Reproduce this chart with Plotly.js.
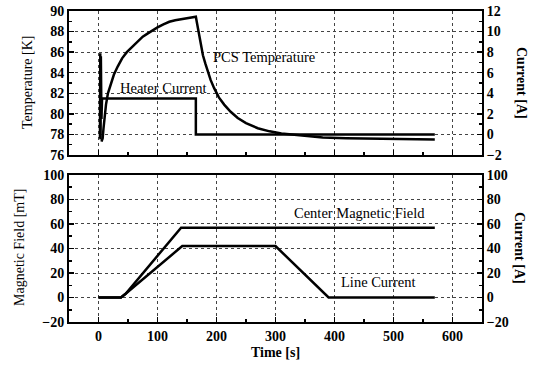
<!DOCTYPE html>
<html>
<head>
<meta charset="utf-8">
<script src="https://cdn.plot.ly/plotly-3.0.1.min.js"></script>
<style>html,body{margin:0;padding:0;background:#fff;}#chart{width:539px;height:365px;}</style>
</head>
<body>
<div id="chart"></div>
<script>
// Top panel: PCS temperature [K] (left axis) and heater current [A] (right axis)
const pcsTime = [5, 7, 8.5, 10, 12.7, 16, 21, 26, 32.5, 40, 48, 55, 65, 75, 83, 92, 100, 110, 120, 130, 140, 150, 158, 165,
  167, 169, 171, 174, 177, 181, 185, 190, 196, 204, 213, 224, 236, 250, 270, 290, 310, 340, 380, 420, 470, 520, 570];
const pcsTemp = [77.3, 77.6, 78.6, 79.5, 80.9, 82.0, 83.0, 83.8, 84.6, 85.4, 86.0, 86.4, 87.0, 87.5, 87.8, 88.15, 88.4, 88.7, 88.95, 89.1, 89.2, 89.3, 89.38, 89.45,
  88.8, 88.1, 87.4, 86.5, 85.7, 84.9, 84.1, 83.3, 82.5, 81.6, 80.9, 80.2, 79.6, 79.1, 78.6, 78.3, 78.1, 77.9, 77.7, 77.62, 77.57, 77.53, 77.5];
const heaterTime = [2.5, 3, 3.5, 4, 5, 6, 165, 165, 570];
const heaterCurrent = [-0.4, 7.9, -0.5, 7.6, 1.5, 3.5, 3.5, 0, 0];

// Bottom panel: center magnetic field [mT] (left axis) and line current [A] (right axis)
const fieldTime = [0, 38, 46, 140, 570];
const fieldValue = [0, 0, 3, 57, 57];
const lineTime = [0, 38, 46, 142, 300, 390, 570];
const lineCurrent = [0, 0, 3, 42, 42, 0, 0];

const topLeftTicks = [76, 78, 80, 82, 84, 86, 88, 90];
const topRightTicks = [-2, 0, 2, 4, 6, 8, 10, 12];
const bottomTicks = [-20, 0, 20, 40, 60, 80, 100];
const timeTicks = [0, 100, 200, 300, 400, 500, 600];

const F = "Liberation Serif, Times New Roman, serif";
const tickFont = {family: F, size: 14, color: "#000", weight: "bold"};
const lineStyle = {color: "#000", width: 2.5};
const noteFont = {family: F, size: 14.5, color: "#000"};

const traces = [
  {x: pcsTime, y: pcsTemp, xaxis: "x", yaxis: "y", mode: "lines", line: lineStyle, name: "PCS Temperature"},
  {x: heaterTime, y: heaterCurrent, xaxis: "x", yaxis: "y2", mode: "lines", line: lineStyle, name: "Heater Current"},
  {x: fieldTime, y: fieldValue, xaxis: "x2", yaxis: "y3", mode: "lines", line: lineStyle, name: "Center Magnetic Field"},
  {x: lineTime, y: lineCurrent, xaxis: "x2", yaxis: "y4", mode: "lines", line: lineStyle, name: "Line Current"}
];

const gridCommon = {showgrid: true, gridcolor: "#444", griddash: "dot", gridwidth: 1};
const axCommon = {showline: true, linecolor: "#000", linewidth: 2, ticks: "inside", ticklen: 5, tickwidth: 1.5, tickcolor: "#000", tickfont: tickFont, zeroline: false};

const xCommon = Object.assign({}, axCommon, gridCommon, {
  range: [-50, 650], tickvals: timeTicks, mirror: true,
  minor: {dtick: 50, tick0: 0, ticks: "inside", ticklen: 3, tickcolor: "#000", showgrid: false}
});

const layout = {
  width: 539, height: 365,
  margin: {l: 69, r: 57, t: 11, b: 43},
  paper_bgcolor: "#fff", plot_bgcolor: "#fff",
  showlegend: false,
  font: {family: F, color: "#000"},
  xaxis: Object.assign({}, xCommon, {anchor: "y", showticklabels: false, matches: "x2"}),
  xaxis2: Object.assign({}, xCommon, {anchor: "y3", showticklabels: true,
    title: {text: "Time [s]", font: {family: F, size: 14, color: "#000", weight: "bold"}, standoff: 4}}),
  yaxis: Object.assign({}, axCommon, gridCommon, {domain: [0.537, 1], anchor: "x", range: [76, 90], tickvals: topLeftTicks,
    minor: {dtick: 1, tick0: 76, ticks: "inside", ticklen: 3, tickcolor: "#000", showgrid: false}}),
  yaxis2: Object.assign({}, axCommon, {overlaying: "y", side: "right", anchor: "x", range: [-2, 12], tickvals: topRightTicks, showgrid: false,
    minor: {dtick: 1, tick0: -2, ticks: "inside", ticklen: 3, tickcolor: "#000", showgrid: false}}),
  yaxis3: Object.assign({}, axCommon, gridCommon, {domain: [0, 0.4727], anchor: "x2", range: [-20, 100], tickvals: bottomTicks,
    minor: {dtick: 10, tick0: -20, ticks: "inside", ticklen: 3, tickcolor: "#000", showgrid: false}}),
  yaxis4: Object.assign({}, axCommon, {overlaying: "y3", side: "right", anchor: "x2", range: [-20, 100], tickvals: bottomTicks, showgrid: false,
    minor: {dtick: 10, tick0: -20, ticks: "inside", ticklen: 3, tickcolor: "#000", showgrid: false}}),
  annotations: [
    {text: "PCS Temperature", x: 280, y: 85.5, xref: "x", yref: "y", showarrow: false, font: noteFont},
    {text: "Heater Current", x: 110, y: 82.5, xref: "x", yref: "y", showarrow: false, font: noteFont},
    {text: "Center Magnetic Field", x: 443, y: 68.9, xref: "x2", yref: "y3", showarrow: false, font: noteFont},
    {text: "Line Current", x: 475, y: 12.7, xref: "x2", yref: "y3", showarrow: false, font: noteFont},
    {text: "Temperature [K]", x: 27, y: 83, showarrow: false, textangle: -90, font: {family: F, size: 14, color: "#000"}},
    {text: "Magnetic Field [mT]", x: 20, y: 248, showarrow: false, textangle: -90, font: {family: F, size: 14, color: "#000"}},
    {text: "Current [A]", x: 522, y: 83, showarrow: false, textangle: 90, font: {family: F, size: 14, color: "#000", weight: "bold"}},
    {text: "Current [A]", x: 519, y: 248, showarrow: false, textangle: 90, font: {family: F, size: 14, color: "#000", weight: "bold"}}
  ]
};

// convert pixel-positioned axis titles to paper coordinates
const plotW = 539 - 69 - 57, plotH = 365 - 11 - 43;
layout.annotations.forEach(a => {
  if (a.xref === undefined) {
    a.xref = "paper"; a.yref = "paper";
    a.x = (a.x - 69) / plotW;
    a.y = (365 - 43 - a.y) / plotH;
    a.xanchor = "center"; a.yanchor = "middle";
  }
});

Plotly.newPlot("chart", traces, layout, {displayModeBar: false, staticPlot: true});
</script>
</body>
</html>
